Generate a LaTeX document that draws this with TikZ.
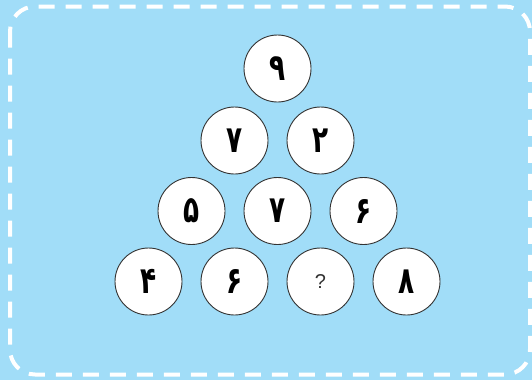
\documentclass[tikz,border=0pt]{standalone}
\usepackage{fontspec}
\newfontfamily\arabicfont[Script=Arabic]{DejaVu Sans}
\newfontfamily\qfont{Liberation Sans}
\definecolor{bgblue}{HTML}{A1DDF8}
\definecolor{ringgray}{HTML}{333333}
\newcommand{\pd}[1]{\scalebox{0.85}[1.2]{#1}}
\begin{document}
\begin{tikzpicture}[x=1pt,y=-1pt,
  ball/.style={circle,draw=ringgray,line width=0.9pt,fill=white,minimum size=67pt,inner sep=0pt,
    font=\arabicfont\bfseries\fontsize{31}{31}\selectfont},
  qball/.style={ball,text=ringgray,font=\qfont\fontsize{20}{20}\selectfont}]
\fill[bgblue] (0,0) rectangle (532,380);
\useasboundingbox (0,0) rectangle (532,380);
\draw[white,line width=4pt,dash pattern=on 16pt off 11pt,rounded corners=25pt] (10,6.5) rectangle (530,374.5);
\node[ball] (r1a) at (277.5,68.5) {\pd{۹}};
\node[ball] (r2a) at (234.5,140.5) {\pd{۷}};
\node[ball] (r2b) at (320.5,140.5) {\pd{۲}};
\node[ball] (r3a) at (191.5,211) {\pd{۵}};
\node[ball] (r3b) at (277.5,211) {\pd{۷}};
\node[ball] (r3c) at (363.5,211) {\pd{۶}};
\node[ball] (r4a) at (148.5,281.5) {\pd{۴}};
\node[ball] (r4b) at (234.5,281.5) {\pd{۶}};
\node[qball] (r4c) at (320.5,281.5) {?};
\node[ball] (r4d) at (406.5,281.5) {\pd{۸}};
\end{tikzpicture}
\end{document}
